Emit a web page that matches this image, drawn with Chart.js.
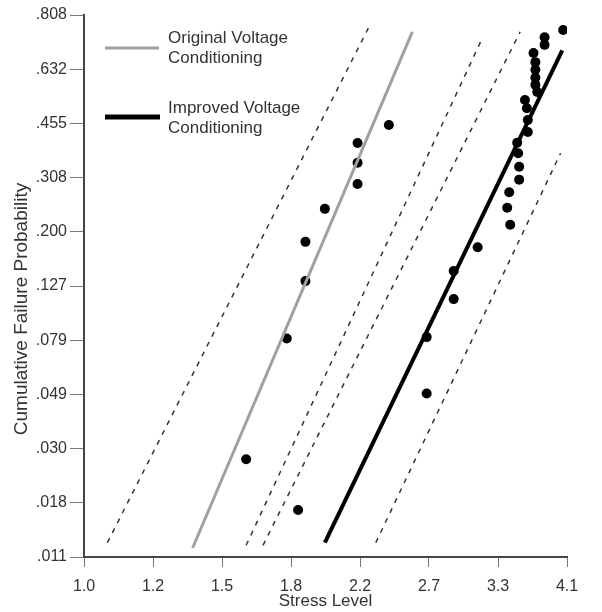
<!DOCTYPE html>
<html>
<head>
<meta charset="utf-8">
<script src="https://cdn.jsdelivr.net/npm/chart.js@4"></script>
<style>
  body { margin: 0; background: #fff; }
  #wrap { width: 602px; height: 612px; }
</style>
</head>
<body>
<div id="wrap"><canvas id="myChart" width="602" height="612"></canvas></div>
<script>
// tick labels (Weibull paper: log stress vs ln(-ln(1-p)))
var xTickLabels = ['1.0', '1.2', '1.5', '1.8', '2.2', '2.7', '3.3', '4.1'];
var yTickLabels = ['.011', '.018', '.030', '.049', '.079', '.127', '.200', '.308', '.455', '.632', '.808'];

// failures, original voltage conditioning
var origStress = [1.60, 1.80, 1.86, 1.90, 1.90, 2.01, 2.21, 2.21, 2.21, 2.42];
var origProb   = [.027, .080, .017, .132, .184, .241, .293, .344, .397, .450];

// failures, improved voltage conditioning
var impStress = [2.70, 2.70, 2.92, 2.92, 3.13, 3.44, 3.41, 3.43, 3.53, 3.53, 3.52, 3.51, 3.62,
                 3.62, 3.61, 3.59, 3.72, 3.70, 3.70, 3.70, 3.70, 3.68, 3.80, 3.80, 4.01];
var impProb   = [.049, .081, .113, .144, .176, .212, .243, .275, .303, .334, .369, .398, .429,
                 .465, .502, .529, .555, .579, .603, .630, .656, .687, .714, .739, .762];

// fitted lines: [stress, prob] end points
var origFit = [[1.37, .0120], [2.59, .756]];
var impFit  = [[2.01, .0126], [4.00, .696]];
// confidence bounds (dashed)
var origLow  = [[1.07, .0126], [2.28, .768]];
var origHigh = [[1.60, .0123], [3.17, .734]];
var impLow   = [[1.68, .0123], [3.54, .756]];
var impHigh  = [[2.33, .0126], [3.98, .369]];

function tx(s) { return Math.log(s); }
function ty(p) { return Math.log(-Math.log(1 - p)); }
function pts(xs, ys) { return xs.map(function(x, i) { return {x: tx(x), y: ty(ys[i])}; }); }
function seg(a) { return a.map(function(d) { return {x: tx(d[0]), y: ty(d[1])}; }); }

function lineSet(data, color, width, dash) {
    return {type: 'scatter', data: seg(data), showLine: true, borderColor: color,
            borderWidth: width, borderDash: dash || [], pointRadius: 0, fill: false};
}

var axisColor = '#444';
var fontFam = '"Liberation Sans", Arial, Helvetica, sans-serif';

// legend and the y title, drawn by hand so they sit where the original has them
var legendPlugin = {
    id: 'legendBox',
    afterDraw: function(chart) {
        var c = chart.ctx;
        c.save();
        c.lineCap = 'butt';
        c.strokeStyle = '#a0a0a0'; c.lineWidth = 3;
        c.beginPath(); c.moveTo(105, 48); c.lineTo(159, 48); c.stroke();
        c.strokeStyle = '#000'; c.lineWidth = 5;
        c.beginPath(); c.moveTo(105, 117); c.lineTo(160, 117); c.stroke();
        c.fillStyle = '#333';
        c.font = '17px ' + fontFam;
        c.textBaseline = 'middle';
        c.fillText('Original Voltage', 168, 38);
        c.fillText('Conditioning', 168, 58);
        c.fillText('Improved Voltage', 168, 108);
        c.fillText('Conditioning', 168, 128);

        c.translate(22, 309);
        c.rotate(-Math.PI / 2);
        c.font = '19px ' + fontFam;
        c.textAlign = 'center';
        c.fillText('Cumulative Failure Probability', 0, 0);
        c.restore();
    }
};

var ctx = document.getElementById('myChart').getContext('2d');
var chart = new Chart(ctx, {
    type: 'scatter',
    data: {
        datasets: [
            lineSet(origLow, '#333', 1.5, [5, 6]),
            lineSet(origHigh, '#333', 1.5, [5, 6]),
            lineSet(impLow, '#333', 1.5, [5, 6]),
            lineSet(impHigh, '#333', 1.5, [5, 6]),
            lineSet(origFit, '#a0a0a0', 3),
            lineSet(impFit, '#000', 4),
            {data: pts(origStress, origProb), backgroundColor: '#000', borderWidth: 0, pointRadius: 5},
            {data: pts(impStress, impProb), backgroundColor: '#000', borderWidth: 0, pointRadius: 5}
        ]
    },
    options: {
        responsive: false,
        animation: false,
        layout: {padding: {top: 15, right: 35, left: 0, bottom: 0}},
        plugins: {legend: {display: false}, tooltip: {enabled: false}},
        scales: {
            x: {
                type: 'linear', min: 0, max: 1.4,
                afterFit: function(s) { s.height = 55; },
                border: {color: axisColor, width: 2},
                grid: {drawOnChartArea: false, drawTicks: true, tickLength: 10, color: '#777'},
                ticks: {
                    stepSize: 0.2, padding: 10, color: '#333', font: {family: fontFam, size: 16},
                    callback: function(v) { return xTickLabels[Math.round(v / 0.2)]; }
                },
                title: {display: true, text: 'Stress Level', color: '#333', padding: {top: 0, bottom: 0},
                        font: {family: fontFam, size: 17}}
            },
            y: {
                type: 'linear', min: -4.5, max: 0.5,
                afterFit: function(s) { s.width = 84; },
                border: {color: axisColor, width: 2},
                grid: {drawOnChartArea: false, drawTicks: true, tickLength: 14, color: '#777'},
                ticks: {
                    stepSize: 0.5, padding: 3, color: '#333', font: {family: fontFam, size: 16},
                    callback: function(v) { return yTickLabels[Math.round((v + 4.5) / 0.5)]; }
                }
            }
        }
    },
    plugins: [legendPlugin]
});
</script>
</body>
</html>
